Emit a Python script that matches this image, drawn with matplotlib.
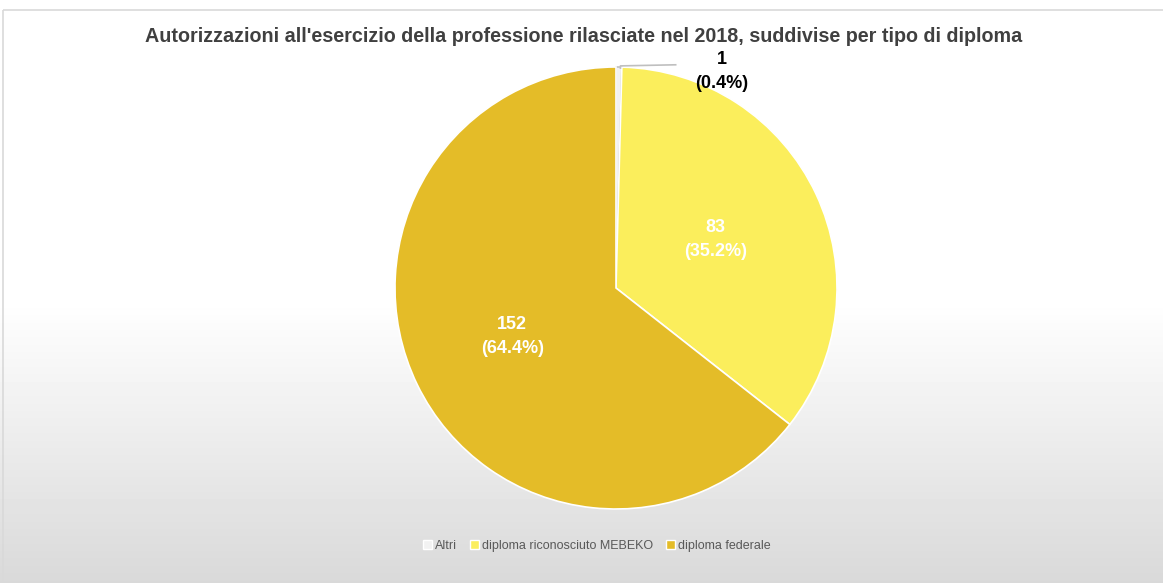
import numpy as np
import matplotlib.pyplot as plt
from matplotlib.patches import Rectangle

plt.rcParams['font.family'] = ['Liberation Sans', 'DejaVu Sans']

labels = ["Altri", "diploma riconosciuto MEBEKO", "diploma federale"]
values = [1, 83, 152]
colors = ["#F2F2F2", "#FBEE5C", "#E4BC28"]
title = "Autorizzazioni all'esercizio della professione rilasciate nel 2018, suddivise per tipo di diploma"

W, H = 1163, 583
fig = plt.figure(figsize=(W / 100, H / 100), dpi=100)

# background gradient
bg = fig.add_axes([0, 0, 1, 1])
grad = np.ones((H, 1))
ys = np.arange(H)
start = 300
grad[start:, 0] = 1 - (ys[start:] - start) / (H - start) * 0.15
bg.imshow(grad, cmap='gray', vmin=0, vmax=1, aspect='auto', extent=[0, W, H, 0])
bg.add_patch(Rectangle((3, 10), W, H, fill=False, edgecolor='#D9D9D9', lw=1.2))
bg.set_xlim(0, W)
bg.set_ylim(H, 0)
bg.axis('off')

# pie
cx, cy, r = 616, 288, 221
ax = fig.add_axes([(cx - r) / W, (H - cy - r) / H, 2 * r / W, 2 * r / H])
total = sum(values)
wedges, _ = ax.pie(values, colors=colors, startangle=90, counterclock=False,
                   radius=1, wedgeprops=dict(edgecolor='white', linewidth=1.2))
wedges[0].set_edgecolor('#BFBFBF')
ax.set_xlim(-1, 1)
ax.set_ylim(-1, 1)
ax.set_aspect('equal')
ax.axis('off')

pct = [v / total * 100 for v in values]
lab_kw = dict(fontsize=13, fontweight='bold', ha='center', va='center', linespacing=1.5)
# inside labels
ax.text(0.45, 0.22, f"{values[1]}\n({pct[1]:.1f}%)", color='white', **lab_kw)
ax.text(-0.47, -0.22, f"{values[2]}\n({pct[2]:.1f}%)", color='white', **lab_kw)
# outside label with leader line
ax.plot([0.02, 0.02, 0.27], [0.995, 1.005, 1.01], color='#BFBFBF', lw=1.2, clip_on=False)
ax.text(0.48, 0.98, f"{values[0]}\n({pct[0]:.1f}%)", color='black', **lab_kw)

fig.text(0.5 + 2 / W, 1 - 37 / H, title, ha='center', va='center', fontsize=14.2,
         fontweight='bold', color='#404040')

handles = [Rectangle((0, 0), 1, 1, facecolor=c, edgecolor='white') for c in colors]
fig.legend(handles, labels, loc='center', bbox_to_anchor=(597 / W, 1 - 546 / H),
           ncol=3, frameon=False, fontsize=9, labelcolor='#595959',
           handlelength=0.7, handleheight=0.7, handletextpad=0.3, columnspacing=1.0)

fig.savefig("out.png", dpi=100)
